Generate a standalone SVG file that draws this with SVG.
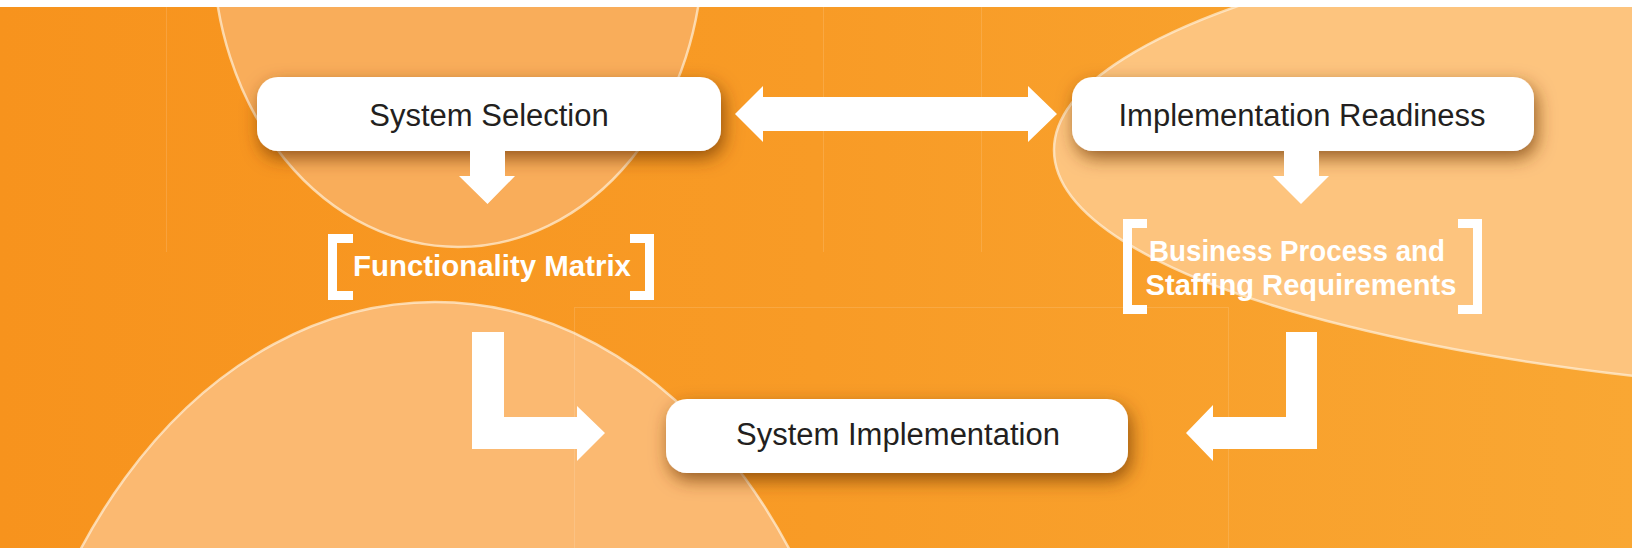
<svg xmlns="http://www.w3.org/2000/svg" width="1632" height="548" viewBox="0 0 1632 548">
  <defs>
    <linearGradient id="bg" x1="0" y1="0" x2="1" y2="0">
      <stop offset="0" stop-color="#F7931D"/>
      <stop offset="0.5" stop-color="#F89B26"/>
      <stop offset="1" stop-color="#F9A733"/>
    </linearGradient>
    <filter id="shadow" x="-10%" y="-50%" width="120%" height="210%">
      <feDropShadow dx="3" dy="7" stdDeviation="9" flood-color="#6B3400" flood-opacity="0.7"/>
    </filter>
    <clipPath id="area"><rect x="0" y="7" width="1632" height="541"/></clipPath>
  </defs>
  <style>
    .box { fill: #FFFFFF; filter: url(#shadow); }
    .lbl { font-family: "Liberation Sans", Arial, sans-serif; font-size: 31px; fill: #231F20; text-anchor: middle; }
    .out { font-family: "Liberation Sans", Arial, sans-serif; font-size: 29px; font-weight: bold; fill: #FFFFFF; text-anchor: middle; }
    .brk { fill: #FFFFFF; }
    .arr { fill: #FFFFFF; }
    .panel { fill: none; stroke: #FFFFFF; stroke-opacity: 0.13; stroke-width: 1; }
    .blob { stroke: #FFF1DC; stroke-opacity: 0.7; stroke-width: 2.5; }
  </style>

  <rect x="0" y="0" width="1632" height="548" fill="#FFFFFF"/>
  <g id="background" clip-path="url(#area)">
    <rect x="0" y="7" width="1632" height="541" fill="url(#bg)"/>
    <ellipse class="blob" cx="458" cy="-53" rx="245" ry="300" fill="#F9AD5A" stroke-opacity="0.45"/>
    <ellipse class="blob" cx="435" cy="902" rx="438" ry="600" fill="#FBB971"/>
    <ellipse class="blob" cx="2054" cy="150" rx="1000" ry="249" fill="#FDC47E"/>
    <line class="panel" x1="166.5" y1="7" x2="166.5" y2="252"/>
    <line class="panel" x1="823.5" y1="7" x2="823.5" y2="252"/>
    <line class="panel" x1="981.5" y1="7" x2="981.5" y2="252"/>
    <rect class="panel" x="574.5" y="307.5" width="654" height="250"/>
  </g>

  <g id="node-system-selection">
    <rect class="box" x="257" y="77" width="464" height="74" rx="21"/>
    <text class="lbl" x="489" y="126">System Selection</text>
  </g>
  <g id="node-implementation-readiness">
    <rect class="box" x="1072" y="77" width="462" height="74" rx="21"/>
    <text class="lbl" x="1302" y="126">Implementation Readiness</text>
  </g>
  <g id="node-system-implementation">
    <rect class="box" x="666" y="399" width="462" height="74" rx="21"/>
    <text class="lbl" x="898" y="445">System Implementation</text>
  </g>
  <g id="node-functionality-matrix">
    <path class="brk" d="M328,234 H353 V243 H337 V291 H353 V300 H328 Z"/>
    <path class="brk" d="M654,234 H630 V243 H645 V291 H630 V300 H654 Z"/>
    <text class="out" x="492" y="276" textLength="278" lengthAdjust="spacingAndGlyphs">Functionality Matrix</text>
  </g>
  <g id="node-business-process">
    <path class="brk" d="M1123,219 H1147 V228 H1132 V305 H1147 V314 H1123 Z"/>
    <path class="brk" d="M1482,219 H1458 V228 H1473 V305 H1458 V314 H1482 Z"/>
    <text class="out" x="1297" y="261" textLength="296" lengthAdjust="spacingAndGlyphs">Business Process and</text>
    <text class="out" x="1301" y="295" textLength="311" lengthAdjust="spacingAndGlyphs">Staffing Requirements</text>
  </g>

  <g id="connectors">
    <path class="arr" d="M735,114 L763,86 V97 H1028 V86 L1057,114 L1028,142 V131 H763 V142 Z"/>
    <path class="arr" d="M470,151 H505 V176 H515 L487.5,204 L459,176 H470 Z"/>
    <path class="arr" d="M1284,151 H1319 V176 H1329 L1301,204 L1273,176 H1284 Z"/>
    <path class="arr" d="M472,332 H504 V417 H577 V406 L605,433 L577,461 V449 H472 Z"/>
    <path class="arr" d="M1317,332 V449 H1213 V461 L1186,433 L1213,405 V417 H1286 V332 Z"/>
  </g>
</svg>
